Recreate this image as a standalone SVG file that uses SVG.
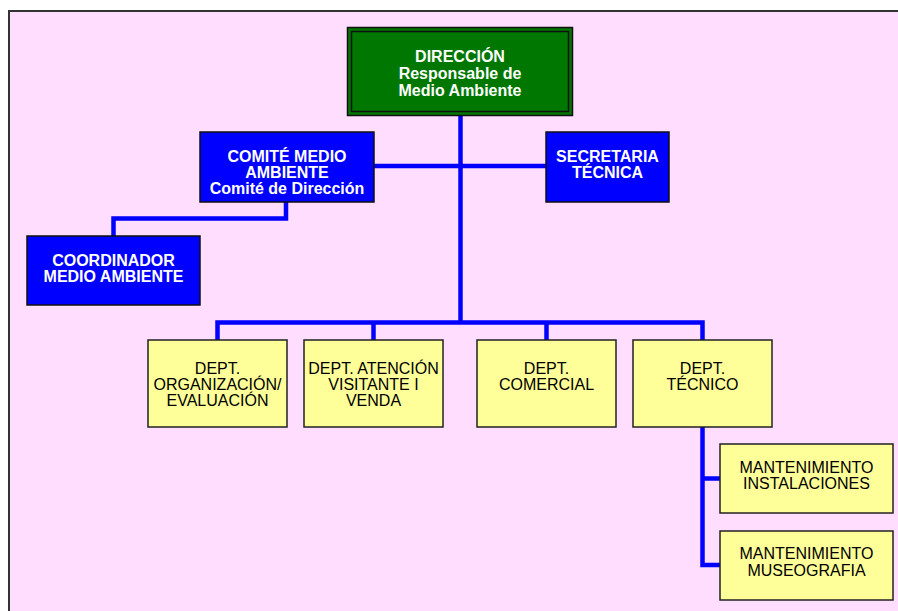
<svg xmlns="http://www.w3.org/2000/svg" width="898" height="611" viewBox="0 0 898 611">
<style>
.bg{fill:#FFDDFF;stroke:#333;stroke-width:2}
.blue{fill:#0000FF;stroke:#111;stroke-width:1.5}
.yel{fill:#FFFF99;stroke:#222;stroke-width:1.5}
.wt{font-family:"Liberation Sans",Arial,sans-serif;font-size:16px;font-weight:bold;fill:#fff;text-anchor:middle}
.bt{font-family:"Liberation Sans",Arial,sans-serif;font-size:16px;fill:#000;text-anchor:middle}
.ln{fill:none;stroke:#0000FF;stroke-width:4.5;stroke-linejoin:miter}
</style>
<rect x="0" y="0" width="898" height="611" fill="#fff"/>
<rect class="bg" x="9" y="11" width="900" height="610"/>
<g id="connectors">
<path class="ln" d="M460.5 115 V322.5"/>
<path class="ln" d="M374 166 H546"/>
<path class="ln" d="M286 202 V218.5 H113.5 V236"/>
<path class="ln" d="M217.5 340 V322.5 H702.5 V340"/>
<path class="ln" d="M373.5 322.5 V340"/>
<path class="ln" d="M546.5 322.5 V340"/>
<path class="ln" d="M702.5 427 V565 H720"/>
<path class="ln" d="M702.5 478.5 H720"/>
</g>
<g id="direccion">
<rect x="347.5" y="27.5" width="225" height="88" fill="#007700" stroke="#111" stroke-width="1.5"/>
<rect x="351.5" y="31.5" width="217" height="80" fill="none" stroke="#111" stroke-width="1.5"/>
<text class="wt" x="460" y="62">DIRECCIÓN</text>
<text class="wt" x="460" y="79">Responsable de</text>
<text class="wt" x="460" y="95.5">Medio Ambiente</text>
</g>
<g id="comite">
<rect class="blue" x="200" y="132" width="174" height="70"/>
<text class="wt" x="287" y="161.5">COMITÉ MEDIO</text>
<text class="wt" x="287" y="177.5">AMBIENTE</text>
<text class="wt" x="287" y="193.5">Comité de Dirección</text>
</g>
<g id="secretaria">
<rect class="blue" x="546" y="132" width="123" height="70"/>
<text class="wt" x="607.5" y="161.5">SECRETARIA</text>
<text class="wt" x="607.5" y="177.5">TÉCNICA</text>
</g>
<g id="coordinador">
<rect class="blue" x="27" y="236" width="173" height="69"/>
<text class="wt" x="113.5" y="265.5">COORDINADOR</text>
<text class="wt" x="113.5" y="281.5">MEDIO AMBIENTE</text>
</g>
<g id="dept-organizacion">
<rect class="yel" x="148" y="340" width="139" height="87"/>
<text class="bt" x="217.5" y="374">DEPT.</text>
<text class="bt" x="217.5" y="390">ORGANIZACIÓN/</text>
<text class="bt" x="217.5" y="406">EVALUACIÓN</text>
</g>
<g id="dept-atencion">
<rect class="yel" x="304" y="340" width="139" height="87"/>
<text class="bt" x="373.5" y="374">DEPT. ATENCIÓN</text>
<text class="bt" x="373.5" y="390">VISITANTE I</text>
<text class="bt" x="373.5" y="406">VENDA</text>
</g>
<g id="dept-comercial">
<rect class="yel" x="477" y="340" width="139" height="87"/>
<text class="bt" x="546.5" y="374">DEPT.</text>
<text class="bt" x="546.5" y="390">COMERCIAL</text>
</g>
<g id="dept-tecnico">
<rect class="yel" x="633" y="340" width="139" height="87"/>
<text class="bt" x="702.5" y="374">DEPT.</text>
<text class="bt" x="702.5" y="390">TÉCNICO</text>
</g>
<g id="mant-instalaciones">
<rect class="yel" x="720" y="444" width="173" height="69"/>
<text class="bt" x="806.5" y="473">MANTENIMIENTO</text>
<text class="bt" x="806.5" y="489">INSTALACIONES</text>
</g>
<g id="mant-museografia">
<rect class="yel" x="720" y="531" width="173" height="69"/>
<text class="bt" x="806.5" y="559">MANTENIMIENTO</text>
<text class="bt" x="806.5" y="575.5">MUSEOGRAFIA</text>
</g>
</svg>
